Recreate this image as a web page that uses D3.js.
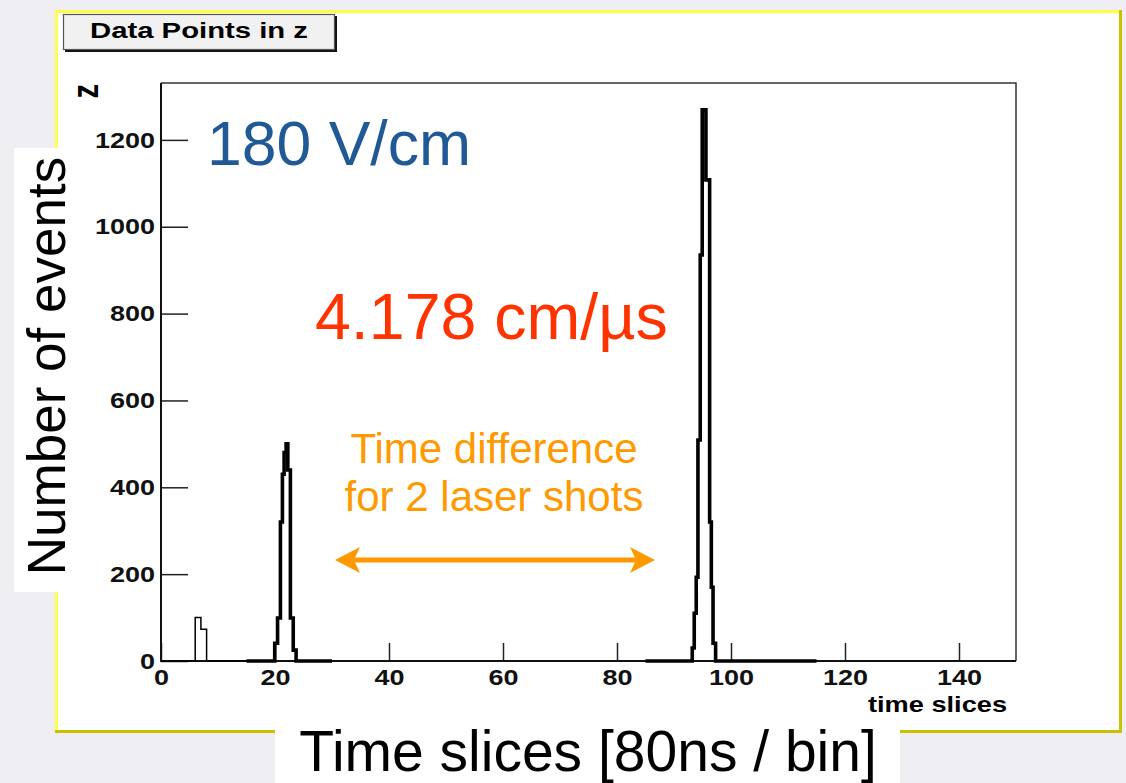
<!DOCTYPE html>
<html><head><meta charset="utf-8">
<script src="https://cdn.jsdelivr.net/npm/d3@7"></script>
<style>
body{margin:0;background:#efeef3;}
svg{display:block;}
text{font-family:"Liberation Sans",Arial,Helvetica,sans-serif;}
</style>
</head><body>
<svg id="c" width="1126" height="783"></svg>
<script>
// ---- data ----
const xTickValues = [0, 20, 40, 60, 80, 100, 120, 140];
const yTickValues = [0, 200, 400, 600, 800, 1000, 1200];
// thin histogram (small bump near the start)
const noiseEdges  = [0, 6, 7, 8, 15];
const noiseCounts = [0, 100, 73, 0];
// first laser peak (thick histogram, variable bin edges)
const peak1Edges  = [15, 19.95, 20.45, 20.95, 21.3, 21.6, 21.95, 22.25, 22.7, 23.2, 23.7, 30];
const peak1Counts = [0, 41, 99, 320, 430, 480, 500, 440, 99, 25, 0];
// second laser peak
const peak2Edges  = [85, 93.2, 93.55, 93.9, 94.2, 94.6, 94.95, 95.6, 96.25, 96.55, 96.85, 97.3, 115];
const peak2Counts = [0, 30, 110, 193, 509, 935, 1269, 1108, 320, 170, 41, 0];

const titleText = "Data Points in z";
const xAxisTitle = "time slices";
const yAxisTitle = "z";
const fieldLabel = "180 V/cm";
const velocityLabel = "4.178 cm/µs";
const noteLines = ["Time difference", "for 2 laser shots"];
const bigXLabel = "Time slices [80ns / bin]";
const bigYLabel = "Number of events";

const svg = d3.select("#c");

// outer white panel with bevelled yellow border
svg.append("rect").attr("x",56).attr("y",11).attr("width",1065).attr("height",721).attr("fill","#fff");
svg.append("line").attr("x1",55).attr("x2",1122).attr("y1",11.5).attr("y2",11.5).attr("stroke","#ffff40").attr("stroke-width",3);
svg.append("line").attr("x1",56.5).attr("x2",56.5).attr("y1",10).attr("y2",733).attr("stroke","#ffff50").attr("stroke-width",3);
svg.append("line").attr("x1",55).attr("x2",1122).attr("y1",731.5).attr("y2",731.5).attr("stroke","#c8c000").attr("stroke-width",3);
svg.append("line").attr("x1",1120.5).attr("x2",1120.5).attr("y1",10).attr("y2",733).attr("stroke","#c8c400").attr("stroke-width",3);

// scales
const x = d3.scaleLinear().domain([0,150]).range([161,1016]);
const y = d3.scaleLinear().domain([0,1331]).range([661,83]);

const tickCol = "#222";

// frame top / right
svg.append("path").attr("d",`M${x(0)},${y(1331)}H${x(150)}V${y(0)}`).attr("fill","none").attr("stroke","#333").attr("stroke-width",1.5);

// y axis
const gy = svg.append("g").attr("transform",`translate(${x(0)},0)`);
gy.call(d3.axisLeft(y).tickValues(d3.range(0,1331,50)).tickSizeInner(-14).tickSizeOuter(0).tickFormat(""));
gy.call(d3.axisLeft(y).tickValues(yTickValues).tickSizeInner(-27).tickSizeOuter(0).tickPadding(5).tickFormat(d3.format("d")));
gy.selectAll(".domain").remove();
gy.selectAll("line").attr("stroke",tickCol).attr("stroke-width",1.5);
gy.selectAll("text").attr("font-size",22.5).attr("font-weight","bold").attr("fill","#111")
  .attr("font-family",'"Liberation Sans",Arial,sans-serif').attr("transform","scale(1.2,1)");

// x axis
const gx = svg.append("g").attr("transform",`translate(0,${y(0)})`);
gx.call(d3.axisBottom(x).tickValues(d3.range(0,151,5)).tickSizeInner(-9).tickSizeOuter(0).tickFormat(""));
gx.call(d3.axisBottom(x).tickValues(xTickValues).tickSizeInner(-18).tickSizeOuter(0).tickPadding(8).tickFormat(d3.format("d")));
gx.selectAll(".domain").remove();
gx.selectAll("line").attr("stroke",tickCol).attr("stroke-width",1.5);
gx.selectAll("text").attr("font-size",22.5).attr("font-weight","bold").attr("fill","#111")
  .attr("font-family",'"Liberation Sans",Arial,sans-serif').attr("transform","scale(1.2,1)");

// axis lines
svg.append("line").attr("x1",x(0)).attr("x2",x(0)).attr("y1",y(1331)).attr("y2",y(0)+1).attr("stroke","#111").attr("stroke-width",2);
svg.append("line").attr("x1",x(0)-1).attr("x2",x(150)).attr("y1",y(0)).attr("y2",y(0)).attr("stroke","#111").attr("stroke-width",2);

// histograms
function stepPoints(edges, counts){
  const pts = [[edges[0],0]];
  counts.forEach((c,i)=>{ pts.push([edges[i],c]); pts.push([edges[i+1],c]); });
  pts.push([edges[edges.length-1],0]);
  return pts;
}
const line = d3.line().x(d=>x(d[0])).y(d=>y(d[1]));
svg.append("path").attr("d",line(stepPoints(noiseEdges,noiseCounts))).attr("fill","none").attr("stroke","#000").attr("stroke-width",1.5);
[[peak1Edges,peak1Counts],[peak2Edges,peak2Counts]].forEach(([e,c])=>{
  svg.append("path").attr("d",line(stepPoints(e,c))).attr("fill","none").attr("stroke","#000")
    .attr("stroke-width",3.6).attr("stroke-linejoin","miter");
});

// title box
svg.append("rect").attr("x",65).attr("y",16).attr("width",272).attr("height",36).attr("fill","#111");
svg.append("rect").attr("x",63.5).attr("y",14.5).attr("width",271).attr("height",35).attr("fill","#f1f1f1").attr("stroke","#555").attr("stroke-width",1.2);
svg.append("text").attr("x",90).attr("y",38).attr("font-size",22).attr("font-weight","bold")
  .attr("textLength",218).attr("lengthAdjust","spacingAndGlyphs").text(titleText);

// axis titles
svg.append("text").attr("x",868).attr("y",712).attr("font-size",22).attr("font-weight","bold")
  .attr("textLength",139).attr("lengthAdjust","spacingAndGlyphs").text(xAxisTitle);
svg.append("text").attr("transform","translate(98,84) rotate(-90) scale(1,1.25)").attr("text-anchor","end")
  .attr("font-size",29).attr("font-weight","bold").text(yAxisTitle);

// annotations
svg.append("text").attr("x",207).attr("y",165).attr("font-size",62.5).attr("fill","#1f5996").text(fieldLabel);
svg.append("text").attr("x",315).attr("y",339).attr("font-size",64.5).attr("fill","#ff3300").text(velocityLabel);
noteLines.forEach((t,i)=>{
  svg.append("text").attr("x",494).attr("y",463+i*48).attr("text-anchor","middle").attr("font-size",42).attr("fill","#ff9900").text(t);
});
// double arrow
const ay = 560, ax1 = 335, ax2 = 655;
svg.append("line").attr("x1",ax1+15).attr("x2",ax2-15).attr("y1",ay).attr("y2",ay).attr("stroke","#ff9900").attr("stroke-width",5);
svg.append("path").attr("fill","#ff9900")
  .attr("d",`M${ax1},${ay}L${ax1+25},${ay-13}L${ax1+19},${ay}L${ax1+25},${ay+13}Z M${ax2},${ay}L${ax2-25},${ay-13}L${ax2-19},${ay}L${ax2-25},${ay+13}Z`);

// big slide labels with white backgrounds
svg.append("rect").attr("x",14).attr("y",148).attr("width",44).attr("height",444).attr("fill","#fff");
svg.append("text").attr("transform","translate(65,366) rotate(-90)").attr("text-anchor","middle")
  .attr("font-size",53).attr("fill","#000").text(bigYLabel);
svg.append("rect").attr("x",275).attr("y",726).attr("width",625).attr("height",57).attr("fill","#fff");
svg.append("text").attr("x",588).attr("y",771).attr("text-anchor","middle")
  .attr("font-size",57).attr("fill","#000").text(bigXLabel);
</script>
</body></html>
